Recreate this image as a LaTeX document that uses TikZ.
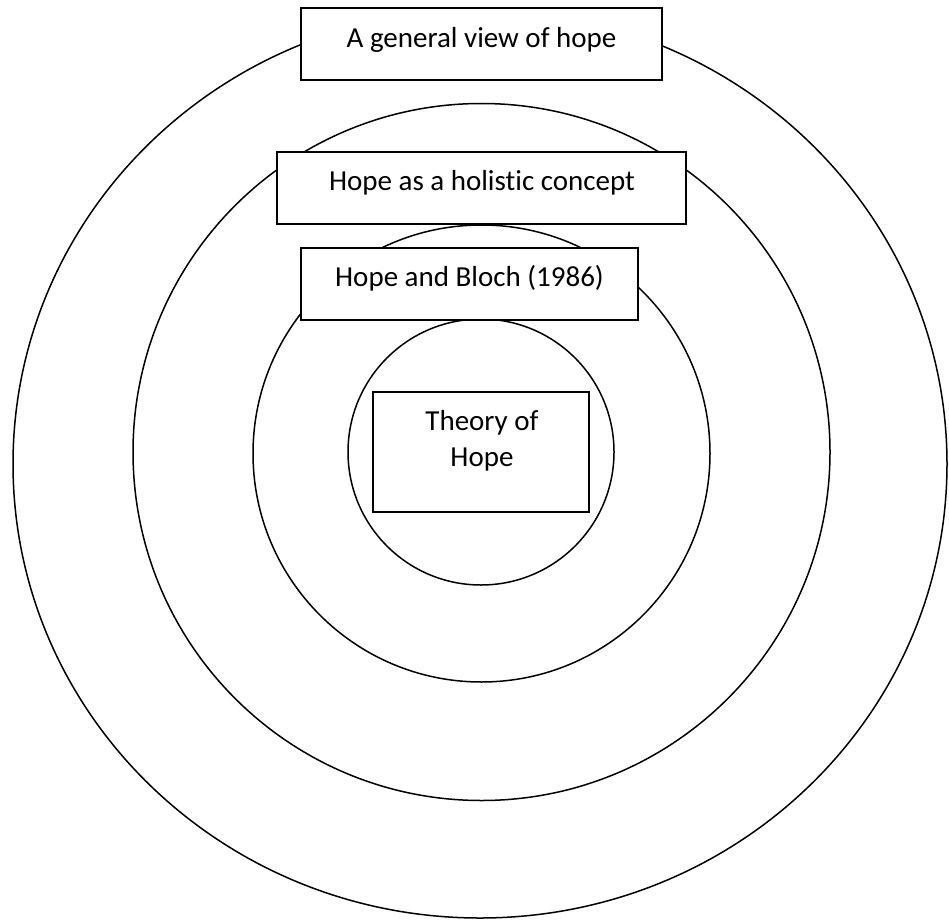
\documentclass[tikz,border=0pt]{standalone}
\usepackage{fontspec}
\setmainfont{Carlito}[Ligatures=NoCommon]
\begin{document}
\begin{tikzpicture}[x=1pt,y=-1pt,
  ring/.style={draw, line width=1.5pt},
  box/.style={draw, line width=2pt, fill=white, rectangle, inner sep=0pt},
  lbl/.style={font=\fontsize{29}{36.7}\selectfont, anchor=base, inner sep=0pt}]
\useasboundingbox (0,0) rectangle (949,920);
% rings
\draw[ring] (480,464) ellipse [x radius=467, y radius=454];
\draw[ring] (481.5,452) circle [radius=348.5];
\draw[ring] (481.5,453.5) circle [radius=228.5];
\draw[ring] (481,452) circle [radius=133];
% boxes
\node[box, minimum width=361pt, minimum height=72pt] (b1) at (481.5,44) {};
\node[box, minimum width=409pt, minimum height=72pt] (b2) at (481.5,188) {};
\node[box, minimum width=337pt, minimum height=72pt] (b3) at (469.5,284) {};
\node[box, minimum width=216pt, minimum height=120pt] (b4) at (481,452) {};
% labels
\node[lbl] (t1) at (481.5,47.7) {A general view of hope};
\node[lbl] (t2) at (482,190.7) {Hope as a holistic concept};
\node[lbl] (t3) at (469.5,286.7) {Hope and Bloch (1986)};
\node[lbl] (t4a) at (482,430) {Theory of};
\node[lbl] (t4b) at (482,466.7) {Hope};
\end{tikzpicture}
\end{document}
